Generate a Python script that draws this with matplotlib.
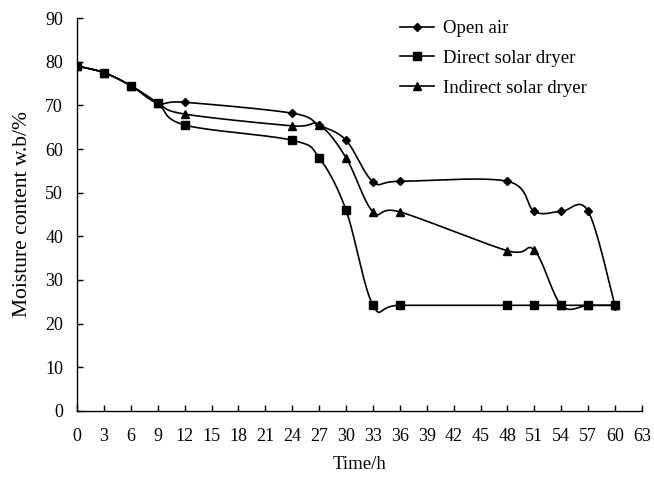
import numpy as np
import matplotlib
matplotlib.use("Agg")
import matplotlib.pyplot as plt
from matplotlib.lines import Line2D

time_h = [0, 3, 6, 9, 12, 24, 27, 30, 33, 36, 48, 51, 54, 57, 60]
open_air = [79, 77.5, 74.5, 70.5, 70.7, 68.2, 65.5, 62, 52.5, 52.6, 52.6, 45.7, 45.7, 45.7, 24]
direct_solar = [79, 77.5, 74.5, 70.5, 65.5, 62, 58, 46, 24.2, 24.2, 24.2, 24.2, 24.2, 24.2, 24.2]
indirect_solar = [79, 77.5, 74.5, 70.5, 68, 65.3, 65.5, 58, 45.6, 45.6, 36.7, 36.8, 24.2, 24.2, 24.2]

labels = ["Open air", "Direct solar dryer", "Indirect solar dryer"]
markers = ["D", "s", "^"]
msizes = [4.2, 5.2, 5.6]

x_ticks = list(range(0, 64, 3))
y_ticks = list(range(0, 91, 10))

plt.rcParams['font.family'] = ['Liberation Serif', 'DejaVu Serif']


def smooth(x, y, n=30):
    # Excel-style smoothed line: cubic Bezier with Catmull-Rom control points
    x = np.asarray(x, float)
    y = np.asarray(y, float)
    P = np.column_stack([x, y])
    pts = []
    m = len(P)
    for i in range(m - 1):
        p0 = P[i - 1] if i > 0 else P[i]
        p1 = P[i]
        p2 = P[i + 1]
        p3 = P[i + 2] if i + 2 < m else P[i + 1]
        c1 = p1 + (p2 - p0) / 6.0
        c2 = p2 - (p3 - p1) / 6.0
        t = np.linspace(0, 1, n)[:, None]
        seg = ((1 - t) ** 3) * p1 + 3 * ((1 - t) ** 2) * t * c1 + 3 * (1 - t) * t ** 2 * c2 + t ** 3 * p2
        pts.append(seg if i == 0 else seg[1:])
    pts = np.vstack(pts)
    return pts[:, 0], pts[:, 1]


fig = plt.figure(figsize=(6.54, 4.79), dpi=100)
ax = fig.add_axes([0.1177, 0.142, 0.8640, 0.8204])

handles = []
for ys, lab, mk, ms in zip([open_air, direct_solar, indirect_solar], labels, markers, msizes):
    sx, sy = smooth(time_h, ys)
    ax.plot(sx, sy, color='black', lw=1.2, solid_capstyle='round')
    ax.plot(time_h, ys, linestyle='none', marker=mk, ms=ms, color='black')
    handles.append(Line2D([], [], color='black', lw=1.2, marker=mk, ms=ms))

ax.set_xlim(0, 63)
ax.set_ylim(0, 90)
ax.set_xticks(x_ticks)
ax.set_yticks(y_ticks)
ax.tick_params(direction='in', length=4, width=1, labelsize=13, colors='black')
ax.tick_params(axis='x', pad=12)
ax.tick_params(axis='y', pad=10)
for s in ['top', 'right']:
    ax.spines[s].set_visible(False)
for s in ['left', 'bottom']:
    ax.spines[s].set_linewidth(1.0)

ax.set_xlabel("Time/h", fontsize=13.5)
ax.set_ylabel("Moisture content w.b/%", fontsize=15.5)
ax.xaxis.set_label_coords(0.5, -0.115)
ax.yaxis.set_label_coords(-0.08, 0.5)

leg = ax.legend(handles, labels, loc='upper left', bbox_to_anchor=(0.542, 1.038),
                frameon=False, fontsize=13.5, handlelength=1.8, labelspacing=0.68,
                handletextpad=0.5)

fig.savefig("out.png", dpi=100)
